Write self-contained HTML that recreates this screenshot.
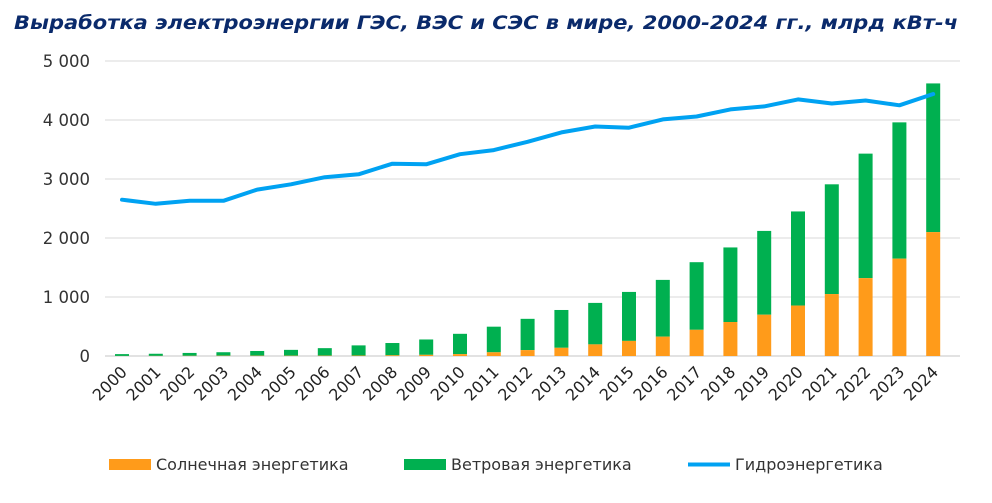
<!DOCTYPE html>
<html><head><meta charset="utf-8"><style>
body{margin:0;background:#fff;width:992px;height:498px;overflow:hidden}
svg text{font-family:"DejaVu Sans","Liberation Sans",sans-serif}
</style></head><body>
<svg width="992" height="498" xmlns="http://www.w3.org/2000/svg">
<text x="14" y="29" font-size="18.5" font-weight="bold" font-style="italic" fill="#0a2a6b" textLength="944" lengthAdjust="spacingAndGlyphs">Выработка электроэнергии ГЭС, ВЭС и СЭС в мире, 2000-2024 гг., млрд кВт-ч</text>
<g stroke="#e6e6e6" stroke-width="1.5">
<line x1="105" x2="960" y1="61" y2="61"/><line x1="105" x2="960" y1="120" y2="120"/><line x1="105" x2="960" y1="179" y2="179"/><line x1="105" x2="960" y1="238" y2="238"/><line x1="105" x2="960" y1="297" y2="297"/><line x1="105" x2="960" y1="356" y2="356" stroke="#d9d9d9"/>
</g>
<g font-size="16.5" fill="#333" text-anchor="end">
<text x="90" y="67">5 000</text><text x="90" y="126">4 000</text><text x="90" y="185">3 000</text><text x="90" y="244">2 000</text><text x="90" y="303">1 000</text><text x="90" y="362">0</text>
</g>
<g id="bars"></g>
<polyline id="hydro" fill="none" stroke="#00a2f2" stroke-width="4" stroke-linejoin="round" stroke-linecap="round"/>
<g id="xl" font-size="16" fill="#222" text-anchor="end"></g>
<rect x="109" y="459" width="42" height="11" fill="#ff9b1a"/>
<text x="156" y="470" font-size="16" fill="#333">Солнечная энергетика</text>
<rect x="404" y="459" width="42" height="11" fill="#00b050"/>
<text x="451" y="470" font-size="16" fill="#333">Ветровая энергетика</text>
<line x1="688" x2="730" y1="464.5" y2="464.5" stroke="#00a2f2" stroke-width="4"/>
<text x="735" y="470" font-size="16" fill="#333">Гидроэнергетика</text>
</svg>
<script>
var solar=[1,2,3,5,5,5,6,8,12,20,32,63,100,139,197,256,328,444,576,700,855,1050,1320,1650,2100];
var tot=[32,38,52,64,85,104,133,180,220,280,376,497,630,780,900,1086,1290,1590,1840,2120,2450,2910,3430,3960,4620];
var hy=[2650,2580,2630,2630,2820,2910,3030,3080,3260,3250,3420,3490,3630,3790,3890,3870,4010,4060,4180,4230,4350,4280,4330,4250,4440];
var ns="http://www.w3.org/2000/svg",b=document.getElementById('bars'),xl=document.getElementById('xl'),pts=[];
function Y(v){return 356-v*0.059}
for(var i=0;i<25;i++){var cx=122+i*33.8;
var r=document.createElementNS(ns,'rect');r.setAttribute('x',cx-7);r.setAttribute('width',14);r.setAttribute('y',Y(tot[i]));r.setAttribute('height',(tot[i]-solar[i])*0.059);r.setAttribute('fill','#00b050');b.appendChild(r);
r=document.createElementNS(ns,'rect');r.setAttribute('x',cx-7);r.setAttribute('width',14);r.setAttribute('y',Y(solar[i]));r.setAttribute('height',solar[i]*0.059);r.setAttribute('fill','#ff9b1a');b.appendChild(r);
pts.push(cx+','+Y(hy[i]).toFixed(1));
var t=document.createElementNS(ns,'text');t.setAttribute('transform','translate('+(cx+6)+',373) rotate(-45)');t.textContent=2000+i;xl.appendChild(t);}
document.getElementById('hydro').setAttribute('points',pts.join(' '));
</script>
</body></html>
